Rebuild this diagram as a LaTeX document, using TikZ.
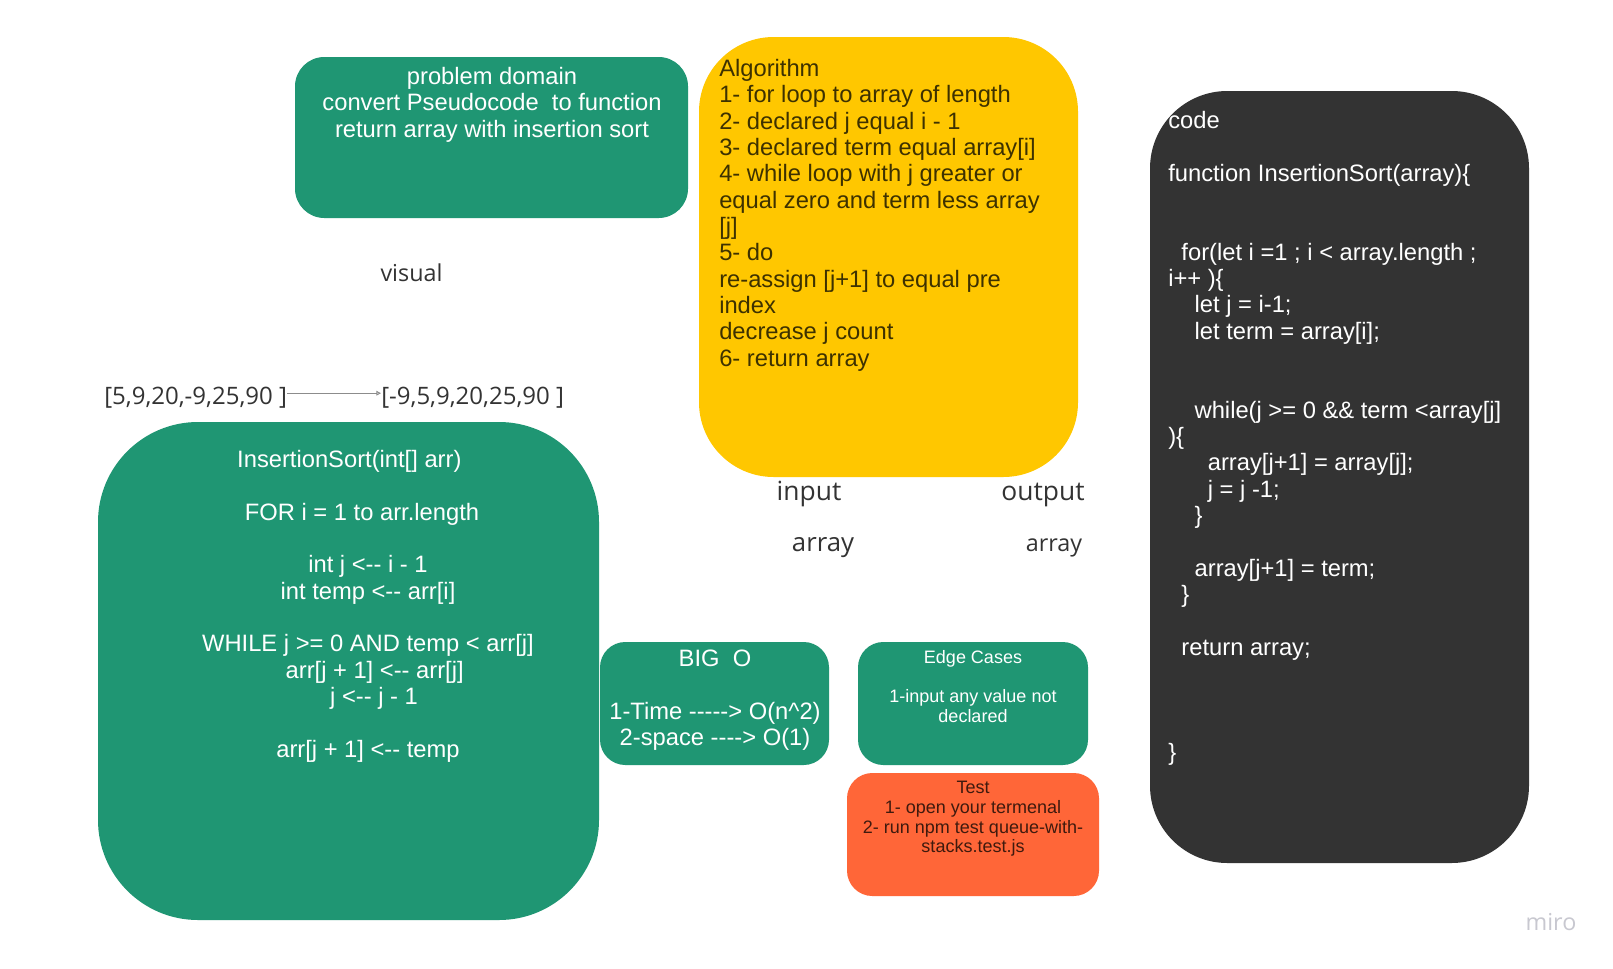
\documentclass[tikz,border=0pt]{standalone}
\usepackage{fontspec}
\newfontfamily\boxfont{Liberation Sans}[Ligatures=TeXOff]
\newfontfamily\notefont{Open Sans}[Ligatures=TeXOff]
\usetikzlibrary{arrows.meta, positioning}
\definecolor{miroGreen}{HTML}{1F9673}
\definecolor{miroYellow}{HTML}{FFC700}
\definecolor{miroDark}{HTML}{333333}
\definecolor{miroOrange}{HTML}{FF6638}
\definecolor{yellowInk}{HTML}{3D3100}
\definecolor{orangeInk}{HTML}{3F1A0E}
\definecolor{labelGray}{HTML}{333333}
\definecolor{arrowGray}{HTML}{8C8C8C}
\definecolor{logoGray}{HTML}{C8C8D0}
\newcommand{\indsp}[1]{\hspace*{#1\fontdimen2\font}}
\newcommand{\gap}[1]{\rule{#1}{0pt}}

\tikzset{
  card/.style={inner sep=0pt, draw=none, rounded corners=#1},
  bigtxt/.style={font=\boxfont\fontsize{17.8pt}{19.75pt}\selectfont, inner sep=0pt},
  smalltxt/.style={font=\boxfont\fontsize{13.5pt}{14.8pt}\selectfont, inner sep=0pt},
  lbl/.style={font=\notefont\fontsize{17.5pt}{21pt}\selectfont, text=labelGray, inner sep=0pt},
  biglbl/.style={lbl, font=\notefont\fontsize{19.8pt}{23pt}\selectfont},
}

\begin{document}
\begin{tikzpicture}[x=0.75pt, y=-0.75pt]
\fill[white] (0,0) rectangle (1613,968);
\useasboundingbox (0,0) rectangle (1613,968);

% cards
\node[card=22pt, fill=miroGreen, minimum width=393*0.75pt, minimum height=161*0.75pt] (domain) at (491.5,137.5) {};
\node[card=56pt, fill=miroYellow, minimum width=379*0.75pt, minimum height=440*0.75pt] (algo) at (888.5,257) {};
\node[card=58pt, fill=miroDark, minimum width=379*0.75pt, minimum height=772*0.75pt] (code) at (1339.5,477) {};
\node[card=75pt, fill=miroGreen, minimum width=501*0.75pt, minimum height=498*0.75pt] (pseudo) at (348.5,671) {};
\node[card=19pt, fill=miroGreen, minimum width=229*0.75pt, minimum height=123*0.75pt] (bigo) at (714.5,703.5) {};
\node[card=19pt, fill=miroGreen, minimum width=230*0.75pt, minimum height=123*0.75pt] (edge) at (973,703.5) {};
\node[card=19pt, fill=miroOrange, minimum width=252*0.75pt, minimum height=123*0.75pt] (test) at (973,834.5) {};

% card texts
\node[bigtxt, text=white, align=center, anchor=north] (domaintxt) at (492,67)
  {problem domain\\ convert Pseudocode\ \ to function\\ return array with insertion sort};

\node[bigtxt, text=yellowInk, align=left, anchor=north west] (algotxt) at (719,59)
  {Algorithm\\
   1- for loop to array of length\\
   2- declared j equal i - 1\\
   3- declared term equal array[i]\\
   4- while loop with j greater or\\
   equal zero and term less array\\
   {[j]}\\
   5- do\\
   re-assign [j+1] to equal pre\\
   index\\
   decrease j count\\
   6- return array};

\node[bigtxt, text=white, align=left, anchor=north west] (codetxt) at (1168,111)
  {code\\
   \mbox{}\\
   function InsertionSort(array)\{\\
   \mbox{}\\
   \mbox{}\\
   \indsp{2}for(let i =1 ; i < array.length ;\\
   i++ )\{\\
   \indsp{4}let j = i-1;\\
   \indsp{4}let term = array[i];\\
   \mbox{}\\
   \mbox{}\\
   \indsp{4}while(j >= 0 \&\& term <array[j]\\
   )\{\\
   \indsp{6}array[j+1] = array[j];\\
   \indsp{6}j = j -1;\\
   \indsp{4}\}\\
   \mbox{}\\
   \indsp{4}array[j+1] = term;\\
   \indsp{2}\}\\
   \mbox{}\\
   \indsp{2}return array;\\
   \mbox{}\\
   \mbox{}\\
   \mbox{}\\
   \}};

\node[bigtxt, text=white, align=center, anchor=north] (pseudotxt) at (368,450)
  {InsertionSort(int[] arr)\gap{28pt}\\
   \mbox{}\\
   FOR i = 1 to arr.length\gap{9pt}\\
   \mbox{}\\
   int j <-- i - 1\\
   int temp <-- arr[i]\\
   \mbox{}\\
   WHILE j >= 0 AND temp < arr[j]\\
   \gap{10pt}arr[j + 1] <-- arr[j]\\
   \gap{9pt}j <-- j - 1\\
   \mbox{}\\
   arr[j + 1] <-- temp};

\node[bigtxt, text=white, align=center, anchor=north] (bigotxt) at (715,650)
  {BIG\ \ O\\ \mbox{}\\ 1-Time -----> O(n\textasciicircum2)\\ 2-space ----> O(1)};

\node[smalltxt, text=white, align=center, anchor=north] (edgetxt) at (973,650)
  {Edge Cases\\ \mbox{}\\ 1-input any value not\\ declared};

\node[smalltxt, text=orangeInk, align=center, anchor=north] (testtxt) at (973,781)
  {Test\\ 1- open your termenal\\ 2- run npm test queue-with-\\ stacks.test.js};

% free labels
\node[lbl, anchor=base] (visual) at (411.5,281) {visual};
\node[lbl, font=\notefont\fontsize{18pt}{21pt}\selectfont, anchor=base west] (inarr) at (104,404) {[5,9,20,-9,25,90 ]};
\node[lbl, font=\notefont\fontsize{18pt}{21pt}\selectfont, anchor=base west] (outarr) at (381,404) {[-9,5,9,20,25,90 ]};
\draw[arrowGray, line width=0.7pt, -{Triangle[open, length=3.5pt, width=3.5pt]}]
  ([yshift=3pt]inarr.east) -- ([yshift=3pt]outarr.west);

\node[biglbl, anchor=base] (input) at (809,500) {input};
\node[biglbl, anchor=base] (output) at (1043,500) {output};
\node[lbl, font=\notefont\fontsize{19.3pt}{23pt}\selectfont, anchor=base] (inarray) at (823,551) {array};
\node[lbl, anchor=base] (outarray) at (1054,551) {array};

\node[lbl, text=logoGray, anchor=base] (logo) at (1551,930) {miro};
\end{tikzpicture}
\end{document}
